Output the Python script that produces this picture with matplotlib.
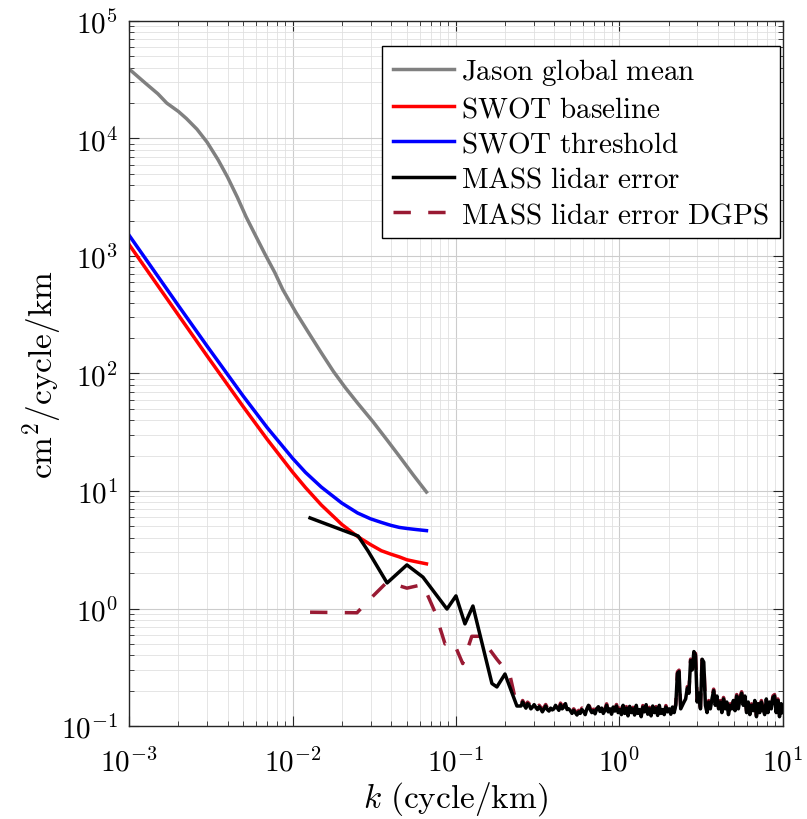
import numpy as np
import matplotlib
matplotlib.use("Agg")
import matplotlib.pyplot as plt

plt.rcParams['mathtext.fontset'] = 'cm'
plt.rcParams['font.family'] = ['DejaVu Serif']

# Jason global mean spectrum
k_jason = [0.001, 0.00126, 0.0015, 0.0017, 0.002, 0.00224, 0.0026, 0.003, 0.0035,
           0.004, 0.0046, 0.0052, 0.006, 0.0068, 0.0078, 0.0087, 0.0105, 0.0126,
           0.015, 0.0178, 0.021, 0.025, 0.031, 0.038, 0.045, 0.055, 0.066]
psd_jason = [39000, 29500, 24000, 20000, 17000, 14800, 12000, 9300, 6600,
             4700, 3150, 2150, 1450, 1030, 720, 520, 330, 220,
             150, 104, 76, 56, 39, 27, 19.8, 13.6, 9.8]

# SWOT requirement curves
k_swot = [0.001, 0.0015, 0.002, 0.003, 0.005, 0.007, 0.01, 0.012, 0.015, 0.02,
          0.025, 0.03, 0.035, 0.04, 0.045, 0.05, 0.057, 0.066]
psd_baseline = [1250, 558, 315, 141, 52, 27.5, 14.5, 10.7, 7.6, 5.2,
                4.1, 3.5, 3.1, 2.9, 2.75, 2.6, 2.5, 2.4]
psd_threshold = [1500, 671, 379, 171, 64, 34.6, 19, 14.4, 10.8, 7.9,
                 6.5, 5.8, 5.4, 5.1, 4.9, 4.8, 4.7, 4.6]

# MASS lidar error, low wavenumber part
k_mass = [0.0128, 0.0252, 0.029, 0.0379, 0.0501, 0.0628, 0.0881, 0.100,
          0.1135, 0.127, 0.166, 0.178, 0.1995, 0.236]
psd_mass = [5.9, 4.14, 3.08, 1.65, 2.35, 1.85, 0.99, 1.28,
            0.74, 1.05, 0.23, 0.215, 0.277, 0.148]

# MASS lidar error DGPS, low wavenumber part
k_dgps = [0.0128, 0.0248, 0.029, 0.0379, 0.0501, 0.0628, 0.0745, 0.0857,
          0.096, 0.110, 0.125, 0.140, 0.178, 0.214, 0.236]
psd_dgps = [0.93, 0.92, 1.16, 1.68, 1.49, 1.6, 0.93, 0.50,
            0.53, 0.34, 0.58, 0.58, 0.37, 0.27, 0.148]

# noise floor shared by both lidar spectra, k from 0.25 to 10 cycle/km
psd_tail = [0.148, 0.160, 0.150, 0.142, 0.155, 0.150, 0.140, 0.145, 0.152, 0.144,
            0.138, 0.146, 0.140, 0.132, 0.140, 0.148, 0.138, 0.134, 0.142, 0.137,
            0.140, 0.150, 0.143, 0.136, 0.152, 0.140, 0.145, 0.155, 0.138, 0.140,
            0.135, 0.128, 0.136, 0.130, 0.124, 0.132, 0.128, 0.138, 0.133, 0.125,
            0.140, 0.150, 0.138, 0.130, 0.135, 0.127, 0.140, 0.146, 0.133, 0.142,
            0.128, 0.136, 0.150, 0.132, 0.140, 0.126, 0.145, 0.134, 0.148, 0.130,
            0.138, 0.125, 0.150, 0.128, 0.142, 0.122, 0.147, 0.130, 0.140, 0.124,
            0.150, 0.128, 0.138, 0.120, 0.145, 0.132, 0.152, 0.126, 0.140, 0.122,
            0.148, 0.130, 0.142, 0.123, 0.150, 0.128, 0.138, 0.125, 0.145, 0.132,
            0.140, 0.126, 0.145, 0.130, 0.150, 0.280, 0.290, 0.140, 0.150, 0.160,
            0.170, 0.210, 0.190, 0.360, 0.300, 0.430, 0.400, 0.160, 0.190, 0.140,
            0.370, 0.350, 0.150, 0.130, 0.160, 0.140, 0.170, 0.200, 0.150, 0.180,
            0.140, 0.160, 0.130, 0.170, 0.140, 0.160, 0.125, 0.150, 0.140, 0.165,
            0.135, 0.180, 0.140, 0.170, 0.190, 0.150, 0.180, 0.130, 0.160, 0.125,
            0.150, 0.135, 0.165, 0.120, 0.155, 0.130, 0.160, 0.140, 0.125, 0.170,
            0.130, 0.160, 0.140, 0.175, 0.180, 0.130, 0.165, 0.120, 0.155, 0.130]
k_tail = np.geomspace(0.25, 10, len(psd_tail))

dgps_color = (0.6, 0.1, 0.2)

fig = plt.figure(figsize=(8.07, 8.2), dpi=100)
ax = fig.add_axes([0.160, 0.1134, 0.810, 0.8598])

ax.plot(k_jason, psd_jason, color=(0.5, 0.5, 0.5), lw=2.5, label=r'$\mathrm{Jason\ global\ mean}$')
ax.plot(k_swot, psd_baseline, color='red', lw=2.5, label=r'$\mathrm{SWOT\ baseline}$')
ax.plot(k_swot, psd_threshold, color='blue', lw=2.5, label=r'$\mathrm{SWOT\ threshold}$')

# dashed DGPS underneath the black curve
ax.plot(list(k_dgps) + list(k_tail), psd_dgps + [v * 1.03 for v in psd_tail],
        color=dgps_color, lw=2.5, dashes=(5, 5), zorder=2)
ax.plot(list(k_mass) + list(k_tail), psd_mass + psd_tail, color='black', lw=2.5, zorder=3)

# legend proxies
ax.plot([], [], color='black', lw=2.5, label=r'$\mathrm{MASS\ lidar\ error}$')
ax.plot([], [], color=dgps_color, lw=2.5, dashes=(5, 5), label=r'$\mathrm{MASS\ lidar\ error\ DGPS}$')

ax.set_xscale('log')
ax.set_yscale('log')
ax.set_xlim(1e-3, 10)
ax.set_ylim(1e-1, 1e5)

xt = [1e-3, 1e-2, 1e-1, 1e0, 1e1]
ax.set_xticks(xt, labels=[r'$10^{-3}$', r'$10^{-2}$', r'$10^{-1}$', r'$10^{0}$', r'$10^{1}$'])
yt = [1e-1, 1e0, 1e1, 1e2, 1e3, 1e4, 1e5]
ax.set_yticks(yt, labels=[r'$10^{-1}$', r'$10^{0}$', r'$10^{1}$', r'$10^{2}$',
                          r'$10^{3}$', r'$10^{4}$', r'$10^{5}$'])
ax.tick_params(which='both', direction='in', top=True, right=True, labelsize=21,
               color=(0.15, 0.15, 0.15))
ax.tick_params(which='major', length=7)
ax.tick_params(axis='x', which='major', pad=15)
ax.tick_params(axis='y', which='major', pad=8)
ax.tick_params(which='minor', length=3.5)
ax.minorticks_on()
ax.tick_params(axis='both', which='minor', labelbottom=False, labelleft=False)

ax.grid(True, which='major', color=(0.8, 0.8, 0.8), lw=0.8)
ax.grid(True, which='minor', color=(0.88, 0.88, 0.88), lw=0.6)
ax.set_axisbelow(True)
for s in ax.spines.values():
    s.set_color((0.15, 0.15, 0.15))
    s.set_linewidth(1.0)

ax.set_xlabel(r'$k\ \mathrm{(cycle/km)}$', fontsize=24, labelpad=2)
ax.set_ylabel(r'$\mathrm{cm^2/cycle/km}$', fontsize=24, labelpad=-2)

leg = ax.legend(loc='upper right', bbox_to_anchor=(0.995, 0.965), borderaxespad=0,
                fontsize=21, frameon=True, fancybox=False, framealpha=1,
                edgecolor='black', handlelength=2.1, handletextpad=0.25,
                labelspacing=0.25, borderpad=0.35)
leg.get_frame().set_linewidth(1.0)

fig.savefig('out.png', dpi=100)
